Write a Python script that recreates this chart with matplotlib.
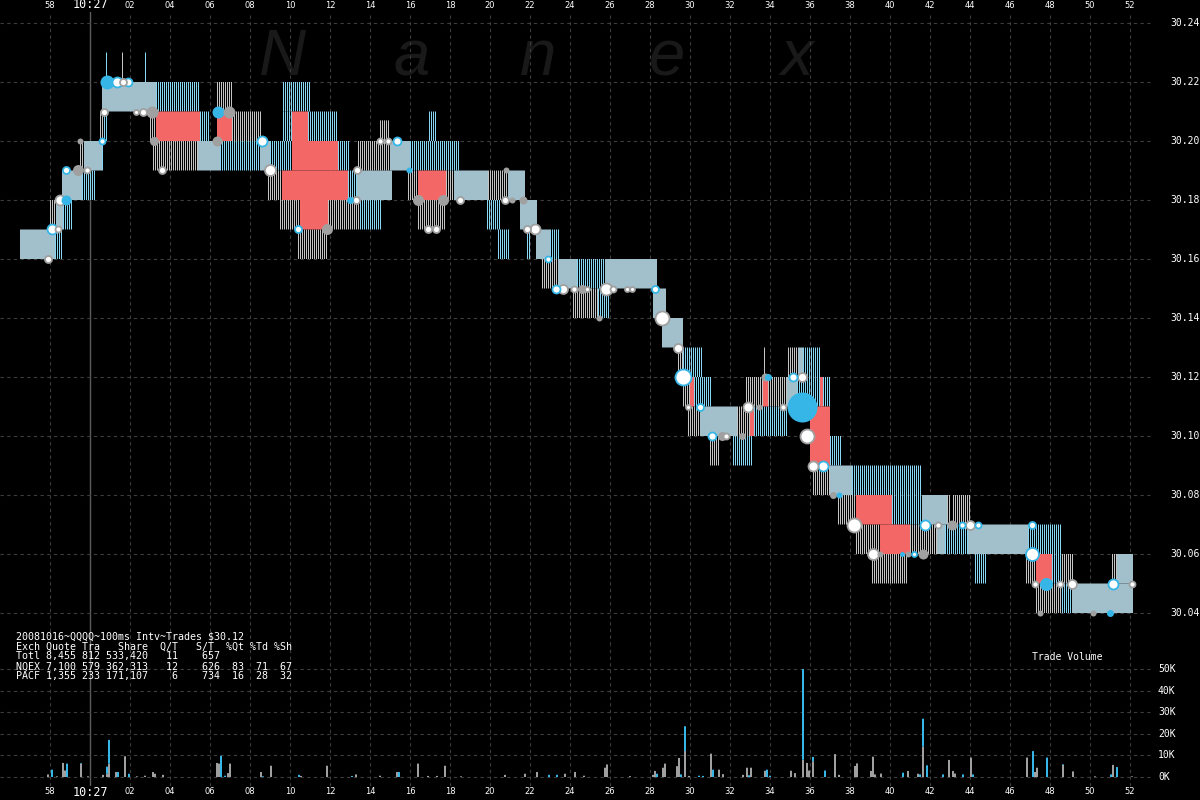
import numpy as np
import matplotlib
matplotlib.use('Agg')
import matplotlib.pyplot as plt

W, H = 1200, 800

# -----------------------------
# COLOURS
# -----------------------------
BG = 'black'
GRID = '#3d3d3d'
NQ_COL = '#a0a0a0'      # NQEX
PA_COL = '#35b6e6'      # PACF
HATCH_GRAY = '#c4c4c4'
HATCH_BLUE = '#86d6f4'
SOLID = '#a2c0cc'       # gray + blue lines blended
RED = '#f36767'

# -----------------------------
# QUOTE BANDS (seconds after 10:27:00, price low/high)
# -----------------------------
# solid = both exchanges quoting the same spread
solid_t0 = [-3.5, -1.7, -1.4, -0.3, 0.6, 5.4, 8.5, 13.35, 15.0, 18.2, 20.9, 21.5, 22.3, 23.4,
            25.75, 28.15, 28.6, 30.5, 34.85, 35.4, 37.0, 41.6, 42.35, 43.9, 49.1, 51.35]
solid_t1 = [-1.75, -1.35, -0.4, 0.6, 3.3, 6.5, 9.0, 15.1, 16.0, 19.9, 21.75, 22.35, 23.0, 24.35,
            28.35, 28.8, 29.65, 32.35, 35.35, 35.65, 38.1, 42.85, 42.75, 46.9, 52.15, 52.15]
solid_lo = [30.16, 30.17, 30.18, 30.19, 30.21, 30.19, 30.19, 30.18, 30.19, 30.18, 30.18, 30.17, 30.16, 30.15,
            30.15, 30.14, 30.13, 30.10, 30.11, 30.12, 30.08, 30.07, 30.06, 30.06, 30.04, 30.05]
solid_hi = [30.17, 30.18, 30.19, 30.20, 30.22, 30.20, 30.20, 30.19, 30.20, 30.19, 30.19, 30.18, 30.17, 30.16,
            30.16, 30.15, 30.14, 30.11, 30.12, 30.13, 30.09, 30.08, 30.07, 30.07, 30.05, 30.06]

# NQEX only quote lines
nq_t0 = [-2.0, -0.5, 0.5, 3.0, 3.15, 6.35, 7.1, 8.9, 9.5, 10.4, 11.9, 13.4, 14.5, 15.9, 16.4, 17.8,
         19.9, 22.6, 24.15, 29.4, 29.65, 29.9, 31.0, 32.35, 32.8, 33.7, 33.9, 34.9, 36.15, 37.4,
         38.3, 39.1, 41.0, 42.85, 43.15, 46.8, 47.3, 48.6, 51.1, 1.6]
nq_t1 = [-1.7, -0.3, 0.7, 3.3, 5.4, 7.1, 8.6, 9.6, 10.5, 11.85, 13.5, 15.0, 15.0, 16.4, 17.75, 18.2,
         20.9, 23.4, 25.4, 29.65, 30.0, 30.5, 31.5, 33.0, 33.65, 33.8, 34.85, 35.4, 37.0, 38.3,
         39.5, 40.9, 42.35, 43.05, 44.05, 47.3, 48.6, 49.15, 51.35, 1.7]
nq_lo = [30.17, 30.19, 30.20, 30.20, 30.19, 30.21, 30.20, 30.18, 30.17, 30.16, 30.17, 30.19, 30.20, 30.18, 30.17, 30.18,
         30.18, 30.15, 30.14, 30.12, 30.11, 30.10, 30.09, 30.10, 30.11, 30.12, 30.11, 30.12, 30.08, 30.07,
         30.06, 30.05, 30.06, 30.07, 30.07, 30.05, 30.04, 30.05, 30.05, 30.22]
nq_hi = [30.18, 30.20, 30.21, 30.21, 30.20, 30.22, 30.21, 30.19, 30.18, 30.17, 30.18, 30.20, 30.207, 30.19, 30.18, 30.19,
         30.19, 30.16, 30.15, 30.13, 30.12, 30.11, 30.10, 30.11, 30.12, 30.13, 30.12, 30.13, 30.09, 30.08,
         30.07, 30.06, 30.07, 30.08, 30.08, 30.06, 30.05, 30.06, 30.06, 30.23]

# PACF only quote lines
pa_t0 = [-1.75, -1.35, -0.4, 0.6, 0.7, 0.8, 2.75, 3.3, 5.5, 6.5, 9.0, 9.65, 9.65, 10.9, 12.4, 12.9,
         13.5, 16.0, 16.95, 19.85, 20.4, 21.85, 23.0, 24.35, 25.4, 29.65, 30.2, 32.15, 33.2, 35.35,
         35.65, 37.0, 38.1, 40.1, 42.75, 44.25, 46.9, 48.1, 48.6]
pa_t1 = [-1.35, -0.9, 0.3, 0.7, 0.85, 0.9, 2.85, 5.5, 6.0, 8.5, 10.1, 11.0, 10.1, 12.4, 13.0, 13.35,
         14.6, 18.5, 17.3, 20.5, 21.0, 22.0, 23.5, 25.75, 26.0, 30.6, 31.1, 33.15, 34.9, 37.0,
         36.5, 37.6, 41.6, 41.6, 43.9, 44.8, 48.6, 48.6, 49.1]
pa_lo = [30.16, 30.17, 30.18, 30.19, 30.20, 30.22, 30.22, 30.21, 30.20, 30.19, 30.19, 30.21, 30.20, 30.20, 30.19, 30.18,
         30.17, 30.19, 30.20, 30.17, 30.16, 30.16, 30.16, 30.15, 30.14, 30.12, 30.11, 30.09, 30.10, 30.11,
         30.12, 30.09, 30.08, 30.07, 30.06, 30.05, 30.06, 30.05, 30.04]
pa_hi = [30.17, 30.18, 30.19, 30.20, 30.21, 30.23, 30.23, 30.22, 30.21, 30.20, 30.20, 30.22, 30.21, 30.21, 30.20, 30.19,
         30.18, 30.20, 30.21, 30.18, 30.17, 30.17, 30.17, 30.16, 30.15, 30.13, 30.12, 30.10, 30.11, 30.12,
         30.13, 30.10, 30.09, 30.08, 30.07, 30.06, 30.07, 30.06, 30.05]

# crossed quotes
red_t0 = [3.3, 6.35, 10.1, 10.1, 9.6, 10.5, 16.4, 30.0, 33.0, 33.65, 36.5, 36.0, 38.3, 39.5, 47.3]
red_t1 = [5.5, 7.1, 10.9, 12.4, 12.9, 11.9, 17.8, 30.2, 33.2, 33.9, 36.65, 37.0, 40.1, 41.0, 48.1]
red_lo = [30.20, 30.20, 30.20, 30.19, 30.18, 30.17, 30.18, 30.11, 30.10, 30.11, 30.11, 30.09, 30.07, 30.06, 30.05]
red_hi = [30.21, 30.21, 30.21, 30.20, 30.19, 30.18, 30.19, 30.12, 30.11, 30.12, 30.12, 30.11, 30.08, 30.07, 30.06]

# -----------------------------
# TRADES (t, price, exch, filled?, diameter px)
# -----------------------------
tr_t = [-2.1, -1.9, -1.6, -1.5, -1.2, -1.2, -0.6, -0.15, -0.5, 0.6, 0.7, 0.85, 1.35, 1.65, 1.9,
        2.3, 2.65, 3.1, 3.2, 3.6, 6.35, 6.4, 6.95, 8.6, 9.0, 10.4, 11.85, 13.35, 13.0, 13.3,
        14.5, 14.9, 15.35, 15.95, 16.4, 17.65, 16.9, 17.3, 18.5, 20.8, 20.75, 21.1, 21.65, 21.85, 22.25,
        22.9, 23.3, 23.65, 24.2, 24.6, 24.85, 25.8, 26.15, 26.85, 27.1, 28.25, 25.45, 28.6, 29.4, 29.65,
        29.9, 30.5, 31.1, 31.6, 31.8, 32.6, 32.9, 33.45, 33.75, 33.9, 34.65, 35.15, 35.6, 35.6, 35.85,
        36.15, 36.65, 37.15, 37.45, 38.2, 39.15, 39.5, 40.6, 40.9, 41.2, 41.65, 41.75, 42.4, 43.1, 43.6,
        44.0, 44.4, 47.1, 47.1, 47.25, 47.8, 48.5, 49.1, 47.5, 50.15, 51.0, 51.15, 52.1]
tr_px = [30.16, 30.17, 30.17, 30.18, 30.18, 30.19, 30.19, 30.19, 30.20, 30.20, 30.21, 30.22, 30.22, 30.22, 30.22,
         30.21, 30.21, 30.21, 30.20, 30.19, 30.20, 30.21, 30.21, 30.20, 30.19, 30.17, 30.17, 30.19, 30.18, 30.18,
         30.20, 30.20, 30.20, 30.19, 30.18, 30.18, 30.17, 30.17, 30.18, 30.19, 30.18, 30.18, 30.18, 30.17, 30.17,
         30.16, 30.15, 30.15, 30.15, 30.15, 30.15, 30.15, 30.15, 30.15, 30.15, 30.15, 30.14, 30.14, 30.13, 30.12,
         30.11, 30.11, 30.10, 30.10, 30.10, 30.10, 30.11, 30.11, 30.12, 30.12, 30.11, 30.12, 30.12, 30.11, 30.10,
         30.09, 30.09, 30.08, 30.08, 30.07, 30.06, 30.06, 30.06, 30.06, 30.06, 30.06, 30.07, 30.07, 30.07, 30.07,
         30.07, 30.07, 30.07, 30.06, 30.05, 30.05, 30.05, 30.05, 30.04, 30.04, 30.04, 30.05, 30.05]
tr_ex = list('NPNNPPNNNPNPPNP'
             'NNNNNNPNPNPNNPN'
             'NNPPNNNNNNNNNNN'
             'PPNNNNNNNNPNNNP'
             'NPPNNNNNNPNPNPN'
             'NPNPNNNPNPNPNNP'
             'NPPPNPNNNNPPN')
tr_fill = list('wwwwfwfwfwwfwww'
               'wwffwfffwwwfwfw'
               'wwwfffwwwfwffww'
               'wwwwfwwwwwwfwww'
               'wwwfwfwfffwwwfw'
               'wwffwwfffwfwwfw'
               'wwwwwfwwfffww')
tr_size = [7, 10, 6, 10, 10, 7, 11, 6, 6, 6, 7, 14, 10, 7, 8,
           5, 7, 12, 9, 7, 10, 12, 12, 10, 11, 7, 11, 7, 7, 7,
           6, 6, 8, 6, 11, 11, 7, 7, 7, 6, 7, 6, 8, 7, 10,
           6, 8, 9, 6, 9, 5, 12, 6, 5, 5, 7, 6, 14, 9, 16,
           5, 7, 8, 9, 6, 7, 10, 6, 8, 7, 6, 8, 9, 30, 14,
           10, 10, 7, 6, 14, 11, 6, 5, 6, 5, 10, 10, 6, 10, 6,
           9, 6, 7, 13, 6, 13, 6, 9, 6, 6, 7, 10, 6]

# -----------------------------
# TRADE VOLUME (K shares) NQEX / PACF
# -----------------------------
vol_t = [-2.1, -1.9, -1.65, -1.35, -1.25, -1.15, -0.45, -0.1, 0.65, 0.85, 0.95, 1.3, 1.4, 1.75, 1.95,
         2.35, 2.75, 3.15, 3.25, 3.65, 6.35, 6.45, 6.55, 6.75, 6.9, 7.0, 8.55, 8.65, 9.05, 10.45,
         10.55, 11.85, 13.1, 13.3, 14.5, 15.35, 15.45, 16.4, 16.9, 17.35, 17.75, 18.55, 20.75, 21.75, 22.35,
         22.95, 23.35, 23.75, 24.25, 24.7, 25.75, 25.85, 27.0, 28.15, 28.25, 28.35, 28.65, 28.75, 29.35, 29.45,
         29.55, 29.75, 29.95, 30.45, 30.65, 31.05, 31.15, 31.45, 31.65, 32.65, 32.85, 32.95, 33.05, 33.75, 33.85,
         34.0, 35.05, 35.25, 35.65, 35.85, 35.95, 36.15, 36.75, 37.25, 37.45, 38.25, 38.35, 39.05, 39.15, 39.25,
         39.55, 40.65, 40.9, 41.4, 41.5, 41.65, 41.85, 42.65, 42.95, 43.15, 43.25, 43.65, 44.05, 44.15, 46.85,
         47.15, 47.25, 47.35, 47.85, 48.65, 49.15, 50.25, 51.05, 51.15, 51.35, 52.1]
vol_nq = [1.2, 0, 0.3, 6.5, 3.0, 0, 6.2, 0.3, 1.0, 1.5, 6.2, 2.3, 0, 9.6, 0,
          0.3, 0.6, 2.3, 1.5, 1.0, 6.5, 6.2, 0, 0, 1.8, 6.2, 2.3, 0, 5.2, 0,
          0.5, 5.2, 0, 1.2, 0.6, 2.3, 0, 6.2, 0.5, 0.5, 5.2, 0.3, 1.0, 1.5, 2.3,
          0, 0, 1.5, 2.3, 0.6, 4.3, 5.8, 0.4, 1.0, 2.8, 0, 4.3, 6.2, 5.0, 8.8,
          0, 12.0, 0.5, 0, 0, 10.8, 0, 3.4, 1.3, 1.0, 4.3, 0, 4.3, 2.9, 0,
          0, 2.9, 1.8, 8.0, 6.5, 3.0, 7.3, 0, 10.6, 1.0, 5.1, 6.3, 2.8, 9.4, 1.2,
          1.6, 0, 2.8, 1.5, 0, 14.0, 0, 0, 7.9, 2.8, 1.6, 0, 9.0, 0, 9.0,
          0, 2.3, 4.3, 0, 5.6, 2.6, 0.3, 0, 5.6, 0, 0.3]
vol_pa = [0, 3.4, 0, 0, 0, 6.2, 0.3, 0, 0, 3.3, 11.0, 0, 2.3, 0, 1.5,
          0, 0, 0, 0, 0, 0, 0, 9.8, 0.6, 0, 0, 0, 0.3, 0, 1.0,
          0, 0, 0.5, 0, 0, 0, 2.3, 0, 0, 0, 0, 0, 0, 0, 0,
          1.0, 1.0, 0, 0, 0, 0, 0, 0, 0, 0, 1.5, 0, 0, 0, 0,
          1.2, 11.5, 0, 0.6, 0.5, 0, 3.4, 0, 0, 0, 0, 0.8, 0, 0, 3.4,
          0.6, 0, 0, 42.0, 0, 0, 2.0, 3.0, 0, 0, 0, 0, 0, 0, 0,
          0, 2.0, 0, 0, 1.2, 13.0, 5.4, 1.2, 0, 0, 0, 1.2, 0, 1.2, 0,
          12.0, 0, 0, 9.0, 0.3, 0, 0, 1.2, 0, 4.6, 0]

# -----------------------------
# AXIS LABELS
# -----------------------------
tick_secs = list(range(-2, 54, 2))
tick_labels = ['58', '10:27'] + ['%02d' % s for s in range(2, 54, 2)]
price_ticks = [30.04, 30.06, 30.08, 30.10, 30.12, 30.14, 30.16, 30.18, 30.20, 30.22, 30.24]
vol_ticks = [0, 10, 20, 30, 40, 50]

legend_lines = [
    "20081016~QQQQ~100ms Intv~Trades $30.12",
    "Exch Quote Tra   Share  Q/T   S/T  %Qt %Td %Sh",
    "Totl 8,455 812 533,420   11    657",
    "NQEX 7,100 579 362,313   12    626  83  71  67",
    "PACF 1,355 233 171,107    6    734  16  28  32",
]

MONO = 'DejaVu Sans Mono'
STEP = 0.1      # one quote line every 100 ms (2 px)
LINE_W = 0.05   # 1 px wide


def fx(x):
    return x / W


def fy(y):
    return 1 - y / H


fig = plt.figure(figsize=(W / 100, H / 100), dpi=100, facecolor=BG)

# price panel: pixel rows 12..645, 20 px per second, 59 px per 2 cents
ax = fig.add_axes([0, fy(645), fx(1153), (645 - 12) / H])
ax.set_xlim(-4.5, 53.15)
ax.set_ylim(30.24 - (645 - 23) / 59 * 0.02, 30.24 + (23 - 12) / 59 * 0.02)

# volume panel: 0K at row 777, 2.16 px per 1K
vax = fig.add_axes([0, fy(786), fx(1153), (786 - 645) / H])
vax.set_xlim(-4.5, 53.15)
vax.set_ylim(-(786 - 777) / 2.16, (777 - 645) / 2.16)

for a in (ax, vax):
    a.set_facecolor(BG)
    a.set_xticks([])
    a.set_yticks([])
    for s in a.spines.values():
        s.set_visible(False)
    for t in tick_secs:
        if t == 0:
            a.axvline(t, color='#5c5c5c', lw=1.0, zorder=1)
        else:
            a.axvline(t, color=GRID, lw=0.8, ls=(0, (3, 3)), zorder=1)

for p in price_ticks:
    ax.axhline(p, color=GRID, lw=0.8, ls=(0, (3, 3)), zorder=1)
for v in vol_ticks:
    vax.axhline(v, color=GRID, lw=0.8, ls=(0, (3, 3)), zorder=1)

# watermark
for ch, x in zip('Nanex', [283, 412, 538, 667, 797]):
    ax.text(fx(x), fy(75), ch, transform=fig.transFigure, ha='center', va='baseline',
            fontsize=47, style='italic', family='Liberation Sans', color='#191919', zorder=0)


def line_band(t0s, t1s, los, his, color, z=3):
    # one 1px line per 100 ms interval, 1px gap between
    for t0, t1, lo, hi in zip(t0s, t1s, los, his):
        xs = np.arange(t0, t1 - 1e-6, STEP)
        bars = ax.bar(xs, hi - lo, width=LINE_W, bottom=lo, align='edge', color=color,
                      lw=0, zorder=z)
        for b in bars:
            b.set_snap(False)


# solid bands
solid = ax.bar(solid_t0, np.subtract(solid_hi, solid_lo), width=np.subtract(solid_t1, solid_t0),
               bottom=solid_lo, align='edge', color=SOLID, lw=0, zorder=2)
line_band(nq_t0, nq_t1, nq_lo, nq_hi, HATCH_GRAY)
line_band(pa_t0, pa_t1, pa_lo, pa_hi, HATCH_BLUE)
red = ax.bar(red_t0, np.subtract(red_hi, red_lo), width=np.subtract(red_t1, red_t0),
             bottom=red_lo, align='edge', color=RED, lw=0, zorder=4)
for b in list(solid) + list(red):
    b.set_snap(False)

# trades
tr_t = np.array(tr_t)
tr_px = np.array(tr_px)
tr_size = np.array(tr_size, dtype=float)
ex_col = np.array([NQ_COL if e == 'N' else PA_COL for e in tr_ex])
filled = np.array([f == 'f' for f in tr_fill])
sz = (tr_size * 0.72) ** 2
order = np.argsort(-tr_size)
for i in order:
    if filled[i]:
        ax.scatter(tr_t[i], tr_px[i], s=sz[i], color=ex_col[i], lw=0, zorder=6)
    else:
        ax.scatter(tr_t[i], tr_px[i], s=sz[i], facecolor='white', edgecolor=ex_col[i],
                   lw=1.3, zorder=6)

# volume bars
vb1 = vax.bar(vol_t, vol_nq, width=0.1, color=NQ_COL, lw=0, zorder=3)
vb2 = vax.bar(vol_t, vol_pa, width=0.1, bottom=vol_nq, color=PA_COL, lw=0, zorder=3)
for b in list(vb1) + list(vb2):
    b.set_snap(False)

# time labels top and bottom
for t, lab in zip(tick_secs, tick_labels):
    x = 90 + 20 * t
    big = lab == '10:27'
    for y in (5, 792):
        fig.text(fx(x), fy(y), lab, ha='center', va='center', color='white',
                 fontsize=8.5 if big else 6, family=MONO if big else 'DejaVu Sans')

# price labels
for p in price_ticks:
    y = 23 + (30.24 - p) / 0.02 * 59
    fig.text(fx(1170), fy(y), '%.2f' % p, ha='left', va='center', color='white',
             fontsize=7, family=MONO)

# volume labels
for v in vol_ticks:
    y = 777 - v * 2.16
    fig.text(fx(1158), fy(y), '%dK' % v, ha='left', va='center', color='white',
             fontsize=7, family=MONO)
fig.text(fx(1032), fy(657), 'Trade Volume', ha='left', va='center', color='white',
         fontsize=7, family=MONO)

# stats block
for i, line in enumerate(legend_lines):
    fig.text(fx(16), fy(636.5 + 10 * i), line, ha='left', va='center', color='white',
             fontsize=7.2, family=MONO)
ax.scatter([fx(8)], [fy(667)], s=(12 * 0.72) ** 2, color=NQ_COL, lw=0,
           transform=fig.transFigure, zorder=7, clip_on=False)
ax.scatter([fx(8)], [fy(677)], s=(5 * 0.72) ** 2, color=PA_COL, lw=0,
           transform=fig.transFigure, zorder=7, clip_on=False)

fig.savefig('out.png', dpi=100, facecolor=BG)
